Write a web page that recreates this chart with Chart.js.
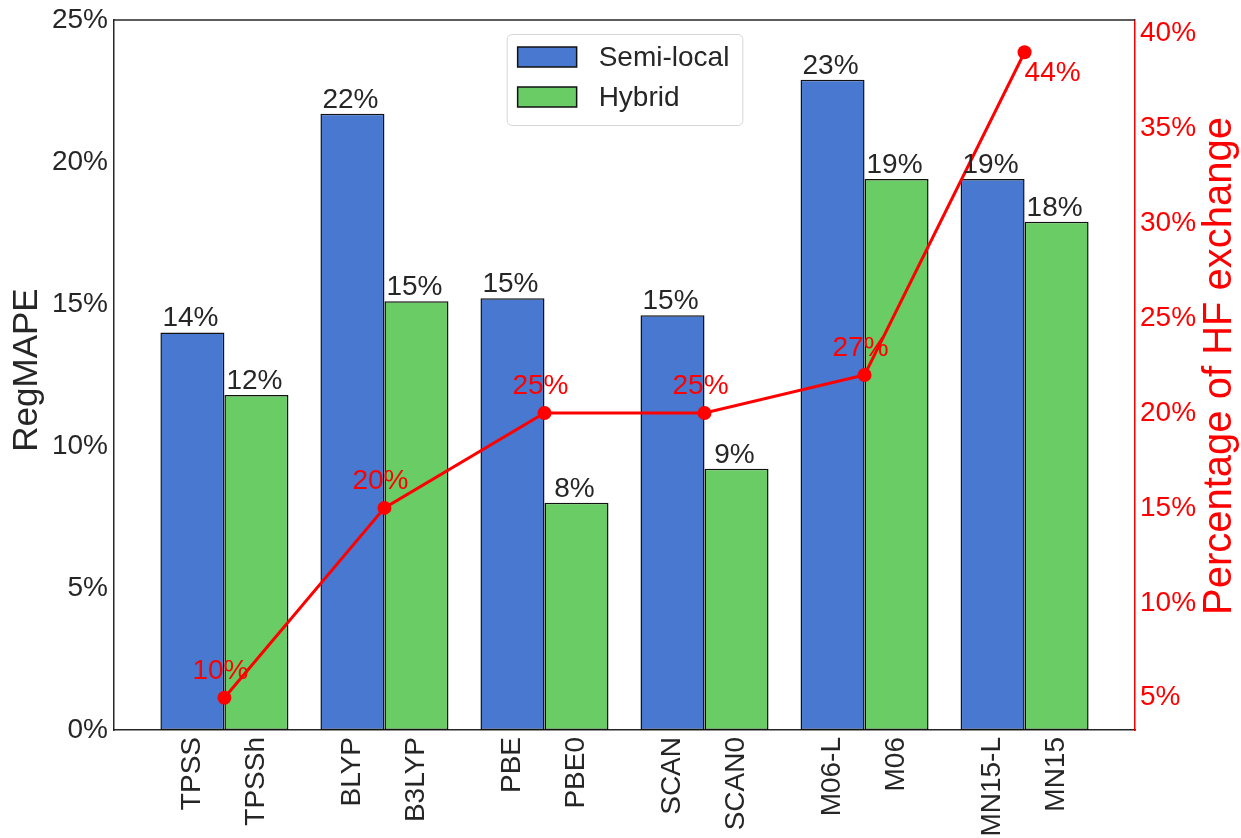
<!DOCTYPE html>
<html>
<head>
<meta charset="utf-8">
<script src="https://cdn.jsdelivr.net/npm/chart.js@4.4.1/dist/chart.umd.min.js"></script>
<style>
  html, body { margin: 0; padding: 0; background: #fff; }
  #wrap { width: 1241px; height: 838px; }
</style>
</head>
<body>
<div id="wrap"><canvas id="chart" width="1241" height="838"></canvas></div>
<script>
// functional pairs: semi-local parent and its hybrid
const semiLocalNames = ['TPSS', 'BLYP', 'PBE', 'SCAN', 'M06-L', 'MN15-L'];
const hybridNames = ['TPSSh', 'B3LYP', 'PBE0', 'SCAN0', 'M06', 'MN15'];

// RegMAPE in %
const semiLocalMape = [14.0, 21.7, 15.2, 14.6, 22.9, 19.4];
const hybridMape = [11.8, 15.1, 8.0, 9.2, 19.4, 17.9];

// HF exchange in the hybrid, %
const hfExchange = [10, 20, 25, 25, 27, 44];

const mapeTicks = [0, 5, 10, 15, 20, 25];
const hfTickValues = [10, 15, 20, 25, 30, 35, 40, 45];
const hfTickLabels = ['5%', '10%', '15%', '20%', '25%', '30%', '35%', '40%'];

const FONT = "'Liberation Sans', Arial, sans-serif";
const INK = '#262626';
const EDGE = '#111111';
const BLUE = '#4878cf';
const GREEN = '#6acc65';

Chart.defaults.font.family = FONT;
Chart.defaults.font.size = 28;
Chart.defaults.color = INK;

const groupIdx = semiLocalNames.map((_, i) => i);
const catPct = 0.8;
const barShift = catPct / 4;   // centre of each bar relative to its group

// x limits: bar extent plus 5% margin
const xLo = -catPct / 2, xHi = groupIdx.length - 1 + catPct / 2;
const xMin = xLo - 0.05 * (xHi - xLo), xMax = xHi + 0.05 * (xHi - xLo);

// right axis limits: data range plus 5% margin
const hfLo = Math.min(...hfExchange), hfHi = Math.max(...hfExchange);
const hfMin = hfLo - 0.05 * (hfHi - hfLo), hfMax = hfHi + 0.05 * (hfHi - hfLo);

// one tick per bar, semi-local then hybrid
const nameTicks = [], nameLabels = [];
groupIdx.forEach(i => {
  nameTicks.push(i - barShift, i + barShift);
  nameLabels.push(semiLocalNames[i], hybridNames[i]);
});

// value on top of each bar
const barValueLabels = {
  id: 'barValueLabels',
  afterDatasetsDraw(chart) {
    const ctx = chart.ctx;
    ctx.save();
    ctx.font = '28px ' + FONT;
    ctx.fillStyle = INK;
    ctx.textAlign = 'center';
    ctx.textBaseline = 'alphabetic';
    chart.data.datasets.forEach((ds, d) => {
      if (ds.type === 'line') return;
      chart.getDatasetMeta(d).data.forEach((bar, i) => {
        ctx.fillText(Math.round(ds.data[i].y) + '%', bar.x - 2, bar.y - 6);
      });
    });
    ctx.restore();
  }
};

// red percentages next to the HF points
const hfPointLabels = {
  id: 'hfPointLabels',
  afterDatasetsDraw(chart) {
    const ctx = chart.ctx;
    const d = chart.data.datasets.findIndex(ds => ds.type === 'line');
    ctx.save();
    ctx.font = '28px ' + FONT;
    ctx.fillStyle = 'red';
    ctx.textBaseline = 'alphabetic';
    chart.getDatasetMeta(d).data.forEach((pt, i) => {
      const text = chart.data.datasets[d].data[i].y + '%';
      if (pt.y - chart.chartArea.top < 60) {
        // no room above, put it below right
        ctx.textAlign = 'left';
        ctx.fillText(text, pt.x, pt.y + 29);
      } else {
        ctx.textAlign = 'center';
        ctx.fillText(text, pt.x - 4, pt.y - 19);
      }
    });
    ctx.restore();
  }
};

// framed legend inside the plot, top centre
const boxLegend = {
  id: 'boxLegend',
  afterDraw(chart) {
    const { ctx, chartArea } = chart;
    const items = chart.data.datasets.filter(ds => ds.type !== 'line');
    ctx.save();
    ctx.font = '28px ' + FONT;
    const textW = Math.max(...items.map(ds => ctx.measureText(ds.label).width));
    const w = 11 + 59 + 22 + textW + 13;
    const h = 91;
    const left = (chartArea.left + chartArea.right) / 2 - w / 2;
    const top = chartArea.top + 14;
    ctx.beginPath();
    ctx.roundRect(left + 0.5, top + 0.5, w, h, 5);
    ctx.fillStyle = 'rgba(255,255,255,0.8)';
    ctx.fill();
    ctx.strokeStyle = '#d5d5d5';
    ctx.lineWidth = 1;
    ctx.stroke();
    items.forEach((ds, i) => {
      const cy = top + 23 + i * 40;
      ctx.fillStyle = ds.backgroundColor;
      ctx.fillRect(left + 11, cy - 10, 59, 20);
      ctx.strokeStyle = EDGE;
      ctx.lineWidth = 1.5;
      ctx.strokeRect(left + 11, cy - 10, 59, 20);
      ctx.fillStyle = INK;
      ctx.textAlign = 'left';
      ctx.textBaseline = 'alphabetic';
      ctx.fillText(ds.label, left + 92, cy + 9);
    });
    ctx.restore();
  }
};

// top spine and the two axis titles (both read bottom to top)
const frameAndTitles = {
  id: 'frameAndTitles',
  afterDraw(chart) {
    const { ctx, chartArea } = chart;
    const midY = (chartArea.top + chartArea.bottom) / 2;
    ctx.save();
    ctx.strokeStyle = INK;
    ctx.lineWidth = 1.5;
    ctx.beginPath();
    ctx.moveTo(chartArea.left, chartArea.top);
    ctx.lineTo(chartArea.right, chartArea.top);
    ctx.stroke();

    ctx.textAlign = 'center';
    ctx.textBaseline = 'alphabetic';

    ctx.save();
    ctx.translate(37, midY - 5);
    ctx.rotate(-Math.PI / 2);
    ctx.font = '35px ' + FONT;
    ctx.fillStyle = INK;
    ctx.fillText('RegMAPE', 0, 0);
    ctx.restore();

    ctx.translate(chart.width - 10, midY - 9);
    ctx.rotate(-Math.PI / 2);
    ctx.font = '40px ' + FONT;
    ctx.fillStyle = 'red';
    ctx.fillText('Percentage of HF exchange', 0, 0);
    ctx.restore();
  }
};

new Chart(document.getElementById('chart'), {
  data: {
    datasets: [
      {
        type: 'bar',
        label: 'Semi-local',
        data: semiLocalMape.map((v, i) => ({ x: i, y: v })),
        backgroundColor: BLUE,
        borderColor: EDGE,
        borderWidth: 1.5,
        borderSkipped: false,
        categoryPercentage: catPct,
        barPercentage: 1,
        xAxisID: 'x',
        yAxisID: 'y',
        order: 1
      },
      {
        type: 'bar',
        label: 'Hybrid',
        data: hybridMape.map((v, i) => ({ x: i, y: v })),
        backgroundColor: GREEN,
        borderColor: EDGE,
        borderWidth: 1.5,
        borderSkipped: false,
        categoryPercentage: catPct,
        barPercentage: 1,
        xAxisID: 'x',
        yAxisID: 'y',
        order: 1
      },
      {
        type: 'line',
        label: 'HF exchange',
        data: hfExchange.map((v, i) => ({ x: i, y: v })),
        borderColor: 'red',
        borderWidth: 3,
        pointRadius: 7,
        pointBackgroundColor: 'red',
        pointBorderWidth: 0,
        tension: 0,
        xAxisID: 'x',
        yAxisID: 'y2',
        order: 0
      }
    ]
  },
  options: {
    responsive: false,
    animation: false,
    devicePixelRatio: 1,
    events: [],
    layout: { padding: { top: 20, left: 0, right: 0, bottom: 0 } },
    plugins: {
      legend: { display: false },
      tooltip: { enabled: false }
    },
    scales: {
      x: {
        type: 'linear',
        display: false,
        offset: false,
        min: xMin,
        max: xMax,
        bounds: 'data',
        afterBuildTicks: s => { s.ticks = groupIdx.map(v => ({ value: v })); }
      },
      names: {
        type: 'linear',
        position: 'bottom',
        offset: false,
        min: xMin,
        max: xMax,
        bounds: 'data',
        afterBuildTicks: s => { s.ticks = nameTicks.map(v => ({ value: v })); },
        ticks: {
          autoSkip: false,
          minRotation: 90,
          maxRotation: 90,
          padding: 7,
          color: INK,
          callback: (v, i) => nameLabels[i]
        },
        grid: { display: false, drawTicks: false },
        border: { display: true, color: INK, width: 1.5 },
        afterFit: s => { s.height = 108; s.paddingLeft = 0; s.paddingRight = 0; }
      },
      y: {
        type: 'linear',
        position: 'left',
        min: 0,
        max: 25,
        afterBuildTicks: s => { s.ticks = mapeTicks.map(v => ({ value: v })); },
        ticks: { padding: 6, color: INK, callback: v => v + '%' },
        grid: { display: false, drawTicks: false },
        border: { display: true, color: INK, width: 1.5 },
        afterFit: s => { s.width = 114; s.paddingTop = 0; s.paddingBottom = 0; }
      },
      y2: {
        type: 'linear',
        position: 'right',
        min: hfMin,
        max: hfMax,
        bounds: 'data',
        afterBuildTicks: s => { s.ticks = hfTickValues.map(v => ({ value: v })); },
        ticks: { padding: 5, color: 'red', callback: (v, i) => hfTickLabels[i] },
        grid: { display: false, drawTicks: false },
        border: { display: true, color: 'red', width: 1.5 },
        afterFit: s => { s.width = 106; s.paddingTop = 0; s.paddingBottom = 0; }
      }
    }
  },
  plugins: [barValueLabels, hfPointLabels, boxLegend, frameAndTitles]
});
</script>
</body>
</html>
